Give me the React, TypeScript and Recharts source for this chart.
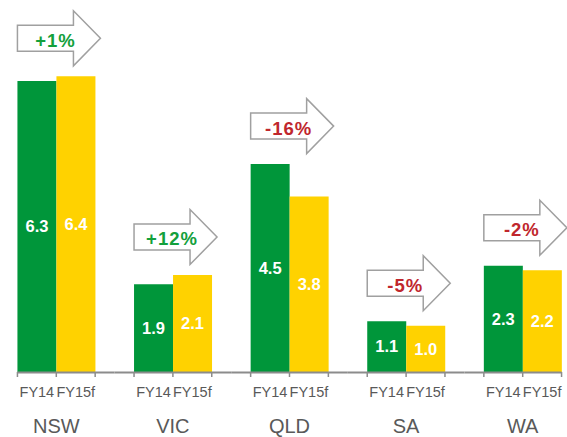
import React from 'react';
import { BarChart, Bar, XAxis, YAxis, LabelList } from 'recharts';

const states = ['NSW', 'VIC', 'QLD', 'SA', 'WA'];
const fy14 = [6.3, 1.9, 4.5, 1.1, 2.3];
const fy15 = [6.4, 2.1, 3.8, 1.0, 2.2];
const changes = ['+1%', '+12%', '-16%', '-5%', '-2%'];
const seriesNames = ['FY14', 'FY15f'];

const GREEN = '#00963a';
const YELLOW = '#ffd200';
const AXIS = '#8c8c8c';
const TEXT = '#595959';

const data = states.map((s, i) => ({ state: s, fy14: fy14[i], fy15: fy15[i] }));

const BAR = 38.86;

const StateTick = (props: any) => {
  const { x, y, payload, index } = props;
  const last = states.length - 1;
  const left = index === 0 ? x - BAR : x - 1.5 * BAR;
  const right = index === last ? x + BAR : x + 1.5 * BAR;
  return (
    <g>
      <line x1={left} x2={right} y1={y + 0.5} y2={y + 0.5} stroke={AXIS} strokeWidth={2} />
      {[-BAR, 0, BAR].map((d) => (
        <line key={d} x1={x + d} x2={x + d} y1={y} y2={y + 5} stroke={AXIS} strokeWidth={1.5} />
      ))}
      <text x={x - BAR / 2} y={y + 25} textAnchor="middle" fontSize={14.5} fill={TEXT}>
        {seriesNames[0]}
      </text>
      <text x={x + BAR / 2} y={y + 25} textAnchor="middle" fontSize={14.5} fill={TEXT}>
        {seriesNames[1]}
      </text>
      <text x={x} y={y + 61} textAnchor="middle" fontSize={20} fill={TEXT}>
        {payload.value}
      </text>
    </g>
  );
};

const renderArrow = (props: any) => {
  const { x, y, height, value } = props;
  const i = props.index ?? fy14.indexOf(value);
  const unit = height / fy14[i];
  const base = y + height;
  const top = Math.min(y, base - fy15[i] * unit);
  const cy = top - 38;
  const x0 = x;
  const d = `M${x0},${cy - 13} L${x0 + 56},${cy - 13} L${x0 + 56},${cy - 27.5} L${x0 + 83},${cy} L${x0 + 56},${cy + 27.5} L${x0 + 56},${cy + 13} L${x0},${cy + 13} Z`;
  const txt = changes[i];
  const color = txt.startsWith('-') ? '#c0272d' : '#13a03c';
  return (
    <g>
      <path d={d} fill="#fff" stroke="#a0a0a0" strokeWidth={1.5} />
      <text x={x0 + 38} y={cy + 8.5} textAnchor="middle" fontSize={18.5} fontWeight="bold" letterSpacing={1} fill={color}>
        {txt}
      </text>
    </g>
  );
};

export default function App() {
  return (
    <div style={{ position: 'absolute', left: 0, top: 0, width: 567, height: 437, overflow: 'hidden', background: '#fff', fontFamily: '"Liberation Sans", Arial, sans-serif' }}>
      <div style={{ position: 'absolute', left: -2.4, top: 0 }}>
        <BarChart
          width={583}
          height={437}
          data={data}
          margin={{ top: 48.6, right: 0, bottom: 0, left: 0 }}
          barCategoryGap="16.67%"
          barGap={0}
        >
          <XAxis
            dataKey="state"
            height={65}
            axisLine={false}
            tickLine={false}
            tickSize={0}
            tickMargin={0}
            interval={0}
            tick={<StateTick />}
          />
          <YAxis hide domain={[0, 7]} />
          <Bar dataKey="fy14" fill={GREEN} isAnimationActive={false}>
            <LabelList dataKey="fy14" position="center" fill="#fff" fontSize={16.5} fontWeight="bold" formatter={(v: any) => Number(v).toFixed(1)} />
            <LabelList dataKey="fy14" content={renderArrow} />
          </Bar>
          <Bar dataKey="fy15" fill={YELLOW} isAnimationActive={false}>
            <LabelList dataKey="fy15" position="center" fill="#fff" fontSize={16.5} fontWeight="bold" formatter={(v: any) => Number(v).toFixed(1)} />
          </Bar>
        </BarChart>
      </div>
    </div>
  );
}
